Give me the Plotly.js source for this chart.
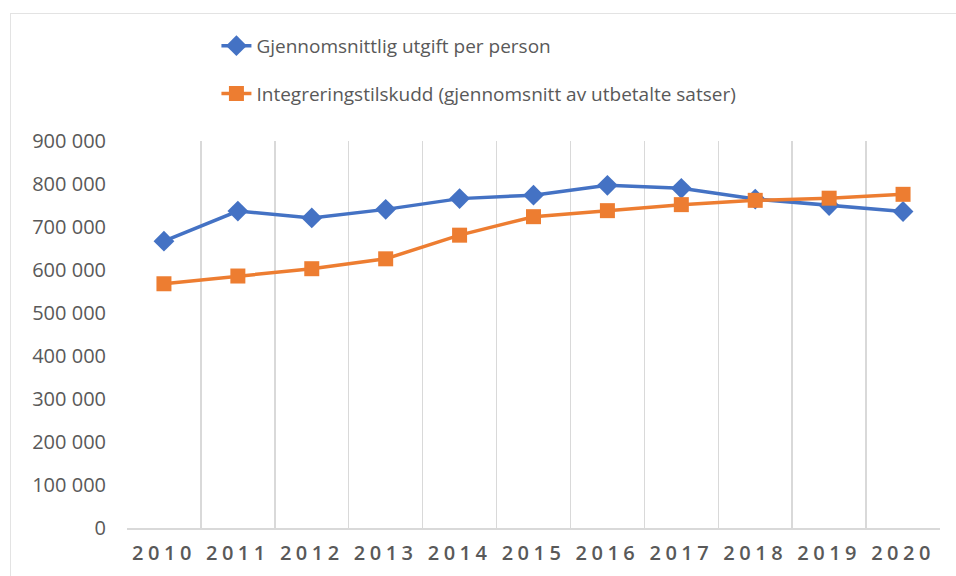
<!DOCTYPE html>
<html>
<head>
<meta charset="utf-8">
<script src="https://cdn.plot.ly/plotly-3.0.1.min.js"></script>
<style>
  html, body { margin: 0; padding: 0; background: #fff; }
  #wrap { position: relative; width: 956px; height: 576px; }
  #frame { position: absolute; left: 10px; top: 13px; right: 0; bottom: 0;
           border-top: 1px solid #e3e3e3; border-left: 1px solid #e3e3e3; pointer-events: none; }
  #chart { position: absolute; left: 0; top: 0; width: 956px; height: 576px; }
  #chart .xtick text { letter-spacing: 4.5px; }
</style>
</head>
<body>
<div id="wrap">
  <div id="chart"></div>
  <div id="frame"></div>
</div>
<script>
const years = ['2010','2011','2012','2013','2014','2015','2016','2017','2018','2019','2020'];
const seriesNames = ['Gjennomsnittlig utgift per person', 'Integreringstilskudd (gjennomsnitt av utbetalte satser)'];
const utgiftPerPerson = [667000, 737000, 721000, 741000, 766000, 774000, 797000, 790000, 765000, 750000, 736000];
const integreringstilskudd = [568000, 586000, 603000, 626000, 681000, 724000, 738000, 752000, 762000, 767000, 776000];
const yTicks = [0, 100000, 200000, 300000, 400000, 500000, 600000, 700000, 800000, 900000];

const FONT = '"Open Sans", "Liberation Sans", sans-serif';
const GRAY = '#595959';

const traces = [
  {
    x: years, y: utgiftPerPerson, name: seriesNames[0], type: 'scatter', mode: 'lines+markers',
    legendgroup: 'a',
    line: { color: '#4472C4', width: 3.5 },
    marker: { symbol: 'diamond', size: 16, color: '#4472C4' }
  },
  {
    x: years, y: integreringstilskudd, name: seriesNames[1], type: 'scatter', mode: 'lines+markers',
    legendgroup: 'b',
    line: { color: '#ED7D31', width: 3.5 },
    marker: { symbol: 'square', size: 15, color: '#ED7D31' }
  }
];

const layout = {
  width: 956, height: 576,
  margin: { l: 127, r: 16, t: 141, b: 48 },
  paper_bgcolor: 'rgba(0,0,0,0)',
  plot_bgcolor: '#fff',
  separators: ', ',
  font: { family: FONT, color: GRAY, size: 19 },
  showlegend: true,
  legend: {
    x: 0.11, xanchor: 'left', y: 1.295, yanchor: 'top',
    orientation: 'v', traceorder: 'grouped', tracegroupgap: 20,
    font: { family: FONT, color: GRAY, size: 19 },
    bgcolor: 'rgba(0,0,0,0)'
  },
  xaxis: {
    type: 'category', range: [-0.5, 10.5],
    tickson: 'boundaries', ticks: '', showgrid: true, gridcolor: '#d9d9d9', gridwidth: 1.5,
    showline: true, linecolor: '#d9d9d9', linewidth: 1.5,
    tickfont: { family: FONT, color: GRAY, size: 20, weight: 600 },
    ticklabelstandoff: 6,
    zeroline: false, fixedrange: true
  },
  yaxis: {
    range: [0, 900000], tickvals: yTicks, tickformat: ',d',
    showgrid: false, zeroline: false, showline: false, ticks: '',
    tickfont: { family: FONT, color: GRAY, size: 20 },
    ticklabelstandoff: 20,
    fixedrange: true
  }
};

Plotly.newPlot('chart', traces, layout, { displayModeBar: false, staticPlot: true });
</script>
</body>
</html>
